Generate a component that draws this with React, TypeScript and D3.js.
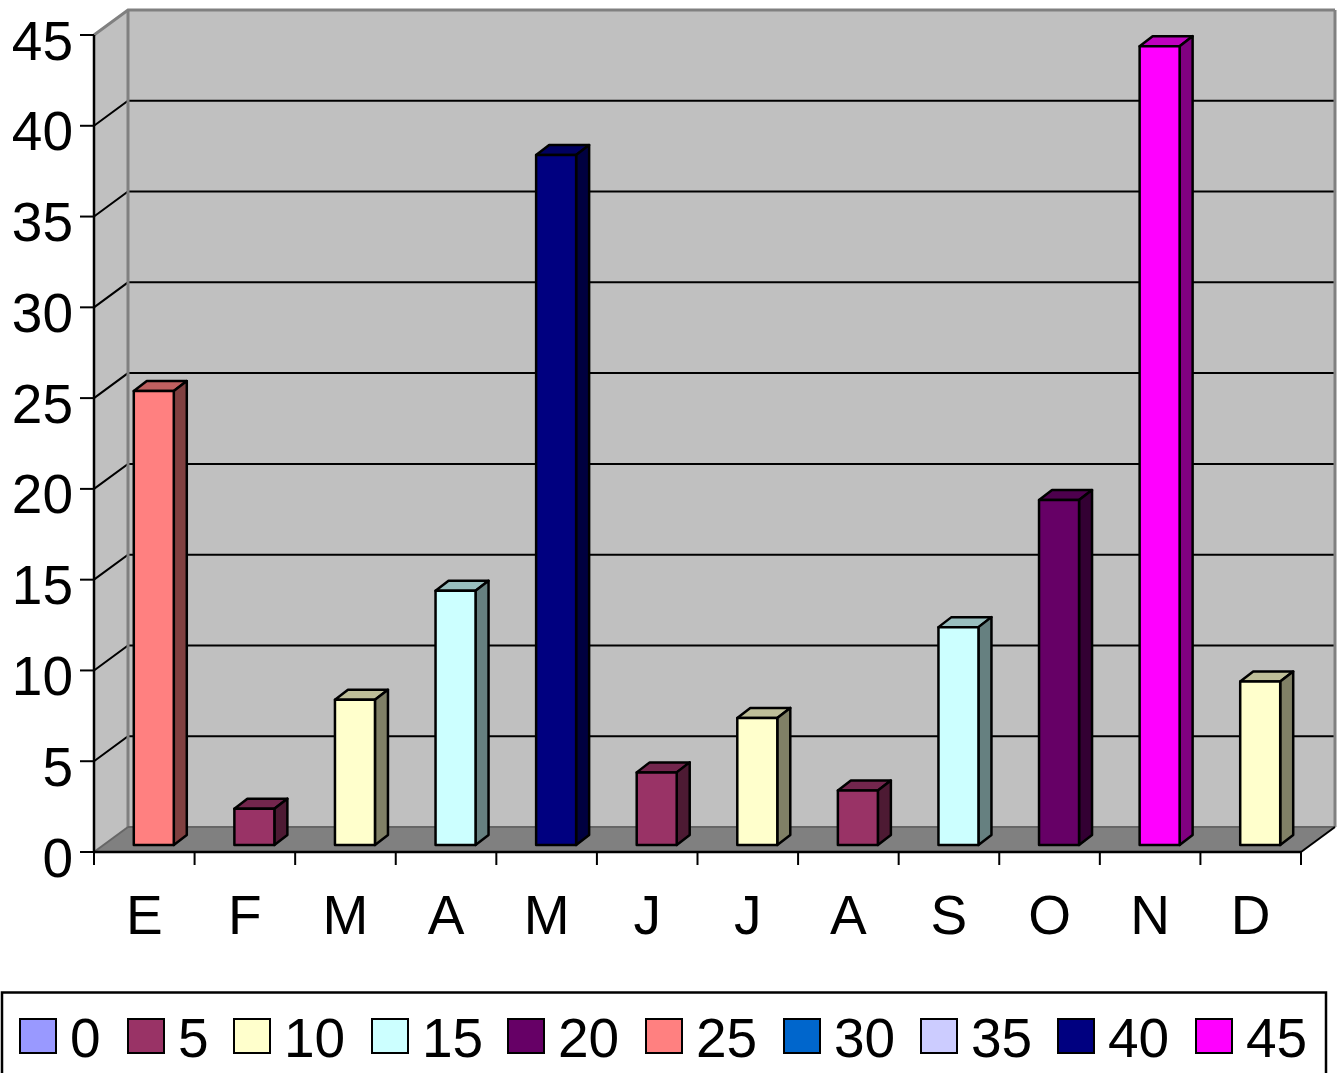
import React from "react";
import * as d3 from "d3";

const months = ["E", "F", "M", "A", "M", "J", "J", "A", "S", "O", "N", "D"];
const monthValues = [25, 2, 8, 14, 38, 4, 7, 3, 12, 19, 44, 9];
const legendSteps = [0, 5, 10, 15, 20, 25, 30, 35, 40, 45];
const legendColors = ["#9999FF", "#993366", "#FFFFCC", "#CCFFFF", "#660066", "#FF8080", "#0066CC", "#CCCCFF", "#000080", "#FF00FF"];

const FONT = "'Liberation Sans', Arial, sans-serif";
const FONT_SIZE = 55;
const FRONT_LEFT = 94;
const FRONT_RIGHT = 1301;
const FRONT_BOTTOM = 852;
const FRONT_TOP = 35;
const WALL_DX = 34;
const WALL_DY = -25;
const BAR_DX = 13;
const BAR_DY = -10;
const BAR_WIDTH = 40;
const BAR_LIFT = 7;

// A value is coloured by the legend step it rounds up to.
const colorFor = (v: number) => {
  const idx = d3.bisectLeft(legendSteps, v);
  return legendColors[Math.min(idx, legendColors.length - 1)];
};

const shade = (hex: string, k: number) => {
  const c = d3.rgb(hex);
  return d3.rgb(c.r * k, c.g * k, c.b * k).formatHex();
};

const pts = (list: [number, number][]) => list.map((p) => p.join(",")).join(" ");

export default function App() {
  const y = d3.scaleLinear().domain([0, 45]).range([FRONT_BOTTOM, FRONT_TOP]);
  const x = d3.scaleBand<number>().domain(d3.range(months.length)).range([FRONT_LEFT, FRONT_RIGHT]);
  const yTicks = y.ticks(9);
  const xEdges = d3.range(months.length + 1).map((i) => FRONT_LEFT + i * x.step());

  const backLeft = FRONT_LEFT + WALL_DX;
  const backRight = FRONT_RIGHT + WALL_DX;
  const backTop = FRONT_TOP + WALL_DY;
  const backBottom = FRONT_BOTTOM + WALL_DY;

  const legendSwatchX = [20, 128, 234, 372, 508, 646, 784, 921, 1058, 1196];

  return (
    <svg width={1340} height={1073} style={{ position: "absolute", left: 0, top: 0, display: "block" }} fontFamily={FONT}>
      <rect width={1340} height={1073} fill="#fff" />

      {/* Walls and floor */}
      <polygon points={pts([[FRONT_LEFT, FRONT_TOP], [backLeft, backTop], [backLeft, backBottom], [FRONT_LEFT, FRONT_BOTTOM]])} fill="#C0C0C0" />
      <rect x={backLeft} y={backTop} width={backRight - backLeft} height={backBottom - backTop} fill="#C0C0C0" />
      <polygon points={pts([[FRONT_LEFT, FRONT_BOTTOM], [backLeft, backBottom], [backRight, backBottom], [FRONT_RIGHT, FRONT_BOTTOM]])} fill="#808080" />

      {/* Gridlines along the left and back walls */}
      {yTicks.filter((t) => t > 0 && t < 45).map((t) => (
        <polyline key={t} fill="none" stroke="#000" strokeWidth={2}
          points={pts([[FRONT_LEFT, y(t)], [backLeft, y(t) + WALL_DY], [backRight, y(t) + WALL_DY]])} />
      ))}

      {/* Wall outline */}
      <polyline fill="none" stroke="#808080" strokeWidth={3}
        points={pts([[FRONT_LEFT, FRONT_TOP], [backLeft, backTop], [backRight, backTop]])} />
      <line x1={backLeft} x2={backLeft} y1={backTop} y2={backBottom} stroke="#808080" strokeWidth={3} />
      <line x1={backRight} x2={backRight} y1={backTop} y2={backBottom} stroke="#808080" strokeWidth={3} />
      <line x1={backLeft} x2={backRight} y1={backBottom} y2={backBottom} stroke="#666" strokeWidth={2} />
      <line x1={FRONT_LEFT} x2={backLeft} y1={FRONT_BOTTOM} y2={backBottom} stroke="#666" strokeWidth={2} />

      {/* Axes */}
      <line x1={FRONT_LEFT} x2={FRONT_LEFT} y1={FRONT_TOP} y2={FRONT_BOTTOM} stroke="#000" strokeWidth={2.5} />
      <line x1={FRONT_LEFT} x2={FRONT_RIGHT} y1={FRONT_BOTTOM} y2={FRONT_BOTTOM} stroke="#000" strokeWidth={2.5} />
      <line x1={FRONT_RIGHT} x2={backRight} y1={FRONT_BOTTOM} y2={backBottom} stroke="#000" strokeWidth={2} />
      {yTicks.map((t) => (
        <g key={t}>
          <line x1={80} x2={FRONT_LEFT} y1={y(t)} y2={y(t)} stroke="#000" strokeWidth={2} />
          <text x={73} y={y(t) + 24.5} textAnchor="end" fontSize={FONT_SIZE} fill="#000">{t}</text>
        </g>
      ))}
      {xEdges.map((e) => (
        <line key={e} x1={e} x2={e} y1={FRONT_BOTTOM} y2={865} stroke="#000" strokeWidth={2} />
      ))}
      {months.map((m, i) => (
        <text key={i} x={x(i)! + x.bandwidth() / 2} y={934} textAnchor="middle" fontSize={FONT_SIZE} fill="#000">{m}</text>
      ))}

      {/* Bars, with front, top and side faces */}
      {monthValues.map((v, i) => {
        const color = colorFor(v);
        const cx = x(i)! + x.bandwidth() / 2 + 9.5;
        const l = cx - BAR_WIDTH / 2;
        const r = cx + BAR_WIDTH / 2;
        const t = y(v) - BAR_LIFT;
        const b = y(0) - BAR_LIFT;
        return (
          <g key={i} stroke="#000" strokeWidth={2.5} strokeLinejoin="round">
            <polygon fill={shade(color, 0.75)} points={pts([[l, t], [l + BAR_DX, t + BAR_DY], [r + BAR_DX, t + BAR_DY], [r, t]])} />
            <polygon fill={shade(color, 0.5)} points={pts([[r, t], [r + BAR_DX, t + BAR_DY], [r + BAR_DX, b + BAR_DY], [r, b]])} />
            <rect x={l} y={t} width={BAR_WIDTH} height={b - t} fill={color} />
          </g>
        );
      })}

      {/* Legend */}
      <rect x={2} y={992.5} width={1324} height={90} fill="#fff" stroke="#000" strokeWidth={2.5} />
      {legendSteps.map((s, i) => (
        <g key={s}>
          <rect x={legendSwatchX[i]} y={1019} width={36} height={34} fill={legendColors[i]} stroke="#000" strokeWidth={2} />
          <text x={legendSwatchX[i] + 50} y={1057} fontSize={FONT_SIZE} fill="#000">{s}</text>
        </g>
      ))}
    </svg>
  );
}
